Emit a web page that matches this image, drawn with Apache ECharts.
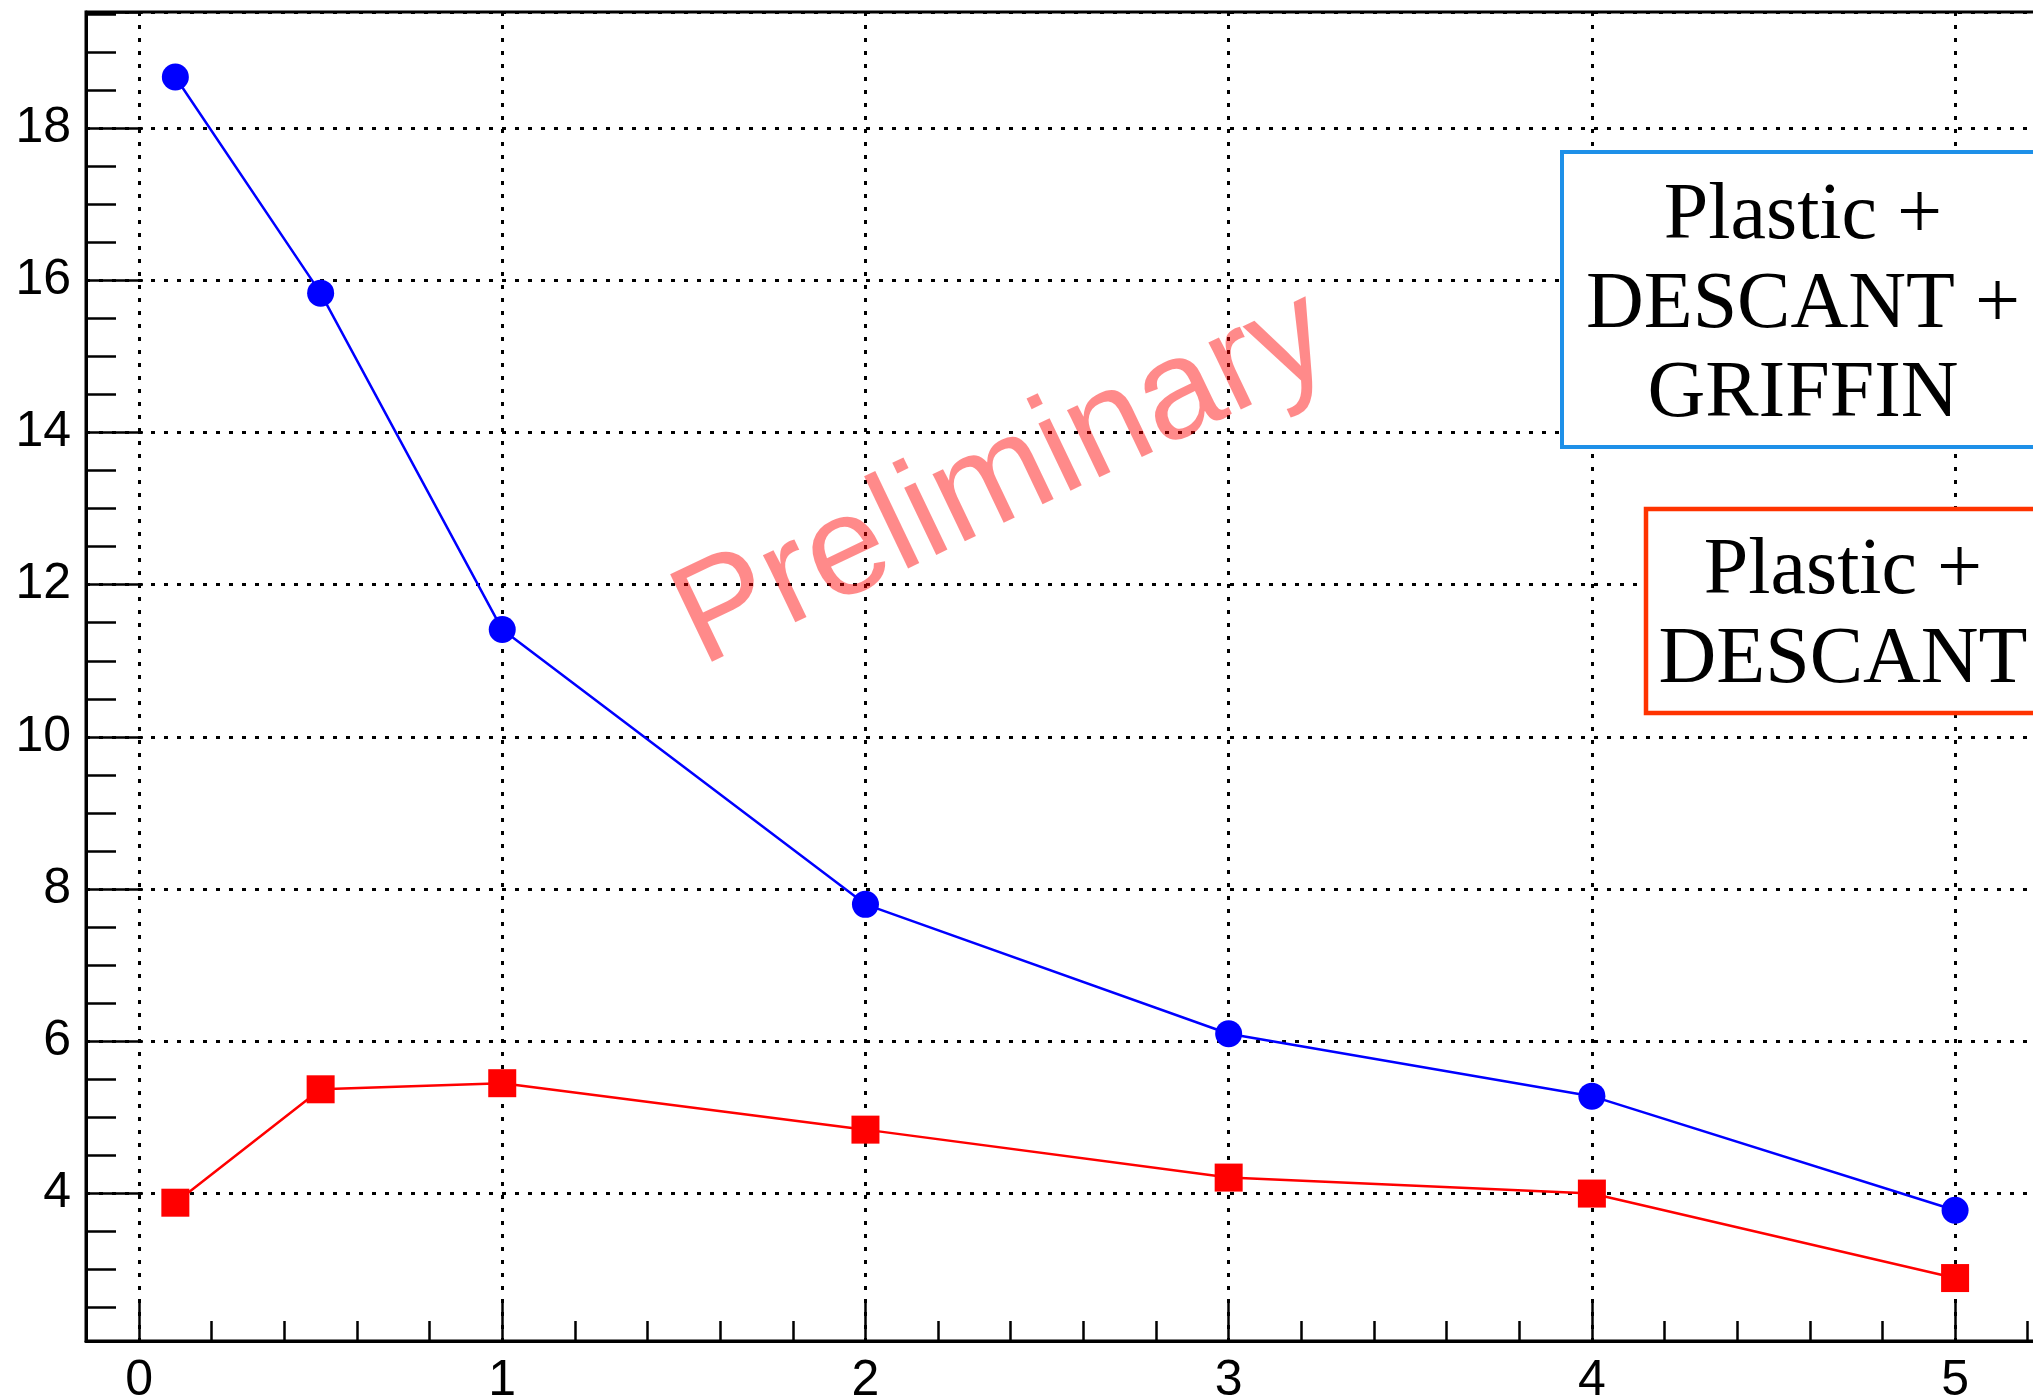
<!DOCTYPE html>
<html>
<head>
<meta charset="utf-8">
<script src="https://cdn.jsdelivr.net/npm/echarts@6/dist/echarts.min.js"></script>
<style>
html, body { margin: 0; padding: 0; background: #fff; }
#main { width: 2033px; height: 1399px; }
</style>
</head>
<body>
<div id="main"></div>
<script>
/*--------------------------- data ---------------------------*/
var xValues = [0.1, 0.5, 1, 2, 3, 4, 5];
var withGriffin = [18.67, 15.83, 11.41, 7.80, 6.10, 5.28, 3.78];   // blue circles
var withoutGriffin = [3.88, 5.37, 5.45, 4.84, 4.21, 4.00, 2.89];   // red squares
var xTickLabels = [0, 1, 2, 3, 4, 5];
var yTickLabels = [4, 6, 8, 10, 12, 14, 16, 18];

function pairs(ys) {
    return xValues.map(function (x, i) { return [x, ys[i]]; });
}
// only print labels on the real major ticks (not on the frame edges)
function onlyTicks(list) {
    return function (v) {
        for (var i = 0; i < list.length; i++) {
            if (Math.abs(v - list[i]) < 1e-6) return String(list[i]);
        }
        return '';
    };
}

var black = '#000';
var dotted = { color: black, width: 3, type: [4, 9] };

/*--------------------------- chart ---------------------------*/
var myChart = echarts.init(document.getElementById('main'));
var option = {
    animation: false,
    backgroundColor: '#fff',
    grid: {
        left: 86, right: -2, top: 12, bottom: 58,
        outerBoundsMode: 'none',   // frame runs past the right edge of the picture
        show: true, borderColor: black, borderWidth: 3
    },
    xAxis: {
        type: 'value',
        min: -0.146, max: 5.22,
        splitNumber: 5,
        axisLine: { onZero: false, lineStyle: { color: black, width: 3 } },
        axisTick: { inside: true, length: 40, lineStyle: { color: black, width: 2.5 } },
        minorTick: { show: true, splitNumber: 5, length: 20, lineStyle: { color: black, width: 2.5 } },
        axisLabel: {
            margin: 15, fontSize: 50, color: black, fontFamily: 'Liberation Sans',
            formatter: onlyTicks(xTickLabels)
        },
        splitLine: { show: true, lineStyle: dotted }
    },
    yAxis: {
        type: 'value',
        min: 2.063, max: 19.524,
        splitNumber: 8,
        axisLine: { onZero: false, lineStyle: { color: black, width: 3 } },
        axisTick: { inside: true, length: 57, lineStyle: { color: black, width: 2.5 } },
        minorTick: { show: true, splitNumber: 4, length: 30, lineStyle: { color: black, width: 2.5 } },
        axisLabel: {
            margin: 15, fontSize: 50, color: black, fontFamily: 'Liberation Sans',
            formatter: onlyTicks(yTickLabels)
        },
        splitLine: { show: true, lineStyle: dotted }
    },
    series: [
        {
            name: 'Plastic + DESCANT + GRIFFIN',
            type: 'line',
            data: pairs(withGriffin),
            symbol: 'circle',
            symbolSize: 27,
            itemStyle: { color: '#0000ff' },
            lineStyle: { color: '#0000ff', width: 2.5 },
            z: 3
        },
        {
            name: 'Plastic + DESCANT',
            type: 'line',
            data: pairs(withoutGriffin),
            symbol: 'rect',
            symbolSize: 28,
            itemStyle: { color: '#ff0000' },
            lineStyle: { color: '#ff0000', width: 2.5 },
            z: 3
        }
    ],
    graphic: [
        // watermark
        {
            type: 'text', x: 1003, y: 480, z: 50,
            rotation: 25.5 * Math.PI / 180,
            style: {
                text: 'Preliminary', fontSize: 141, fontFamily: 'Liberation Sans',
                fill: 'rgba(255,0,0,0.46)',
                align: 'center', verticalAlign: 'middle',
                textAlign: 'center', textVerticalAlign: 'middle'
            }
        },
        // blue label box
        {
            type: 'rect', z: 100,
            shape: { x: 1562, y: 152, width: 483, height: 295 },
            style: { fill: '#fff', stroke: '#1E90E8', lineWidth: 4 }
        },
        {
            type: 'text', x: 1803, y: 306, z: 101,
            style: {
                text: 'Plastic +\nDESCANT +\nGRIFFIN',
                fontSize: 80, fontFamily: 'Liberation Serif', lineHeight: 89, fill: black,
                align: 'center', verticalAlign: 'middle',
                textAlign: 'center', textVerticalAlign: 'middle'
            }
        },
        // red label box
        {
            type: 'rect', z: 100,
            shape: { x: 1646, y: 509, width: 394, height: 204 },
            style: { fill: '#fff', stroke: '#ff3300', lineWidth: 4.5 }
        },
        {
            type: 'text', x: 1843, y: 616, z: 101,
            style: {
                text: 'Plastic +\nDESCANT',
                fontSize: 80, fontFamily: 'Liberation Serif', lineHeight: 89, fill: black,
                align: 'center', verticalAlign: 'middle',
                textAlign: 'center', textVerticalAlign: 'middle'
            }
        }
    ]
};
myChart.setOption(option);
</script>
</body>
</html>
